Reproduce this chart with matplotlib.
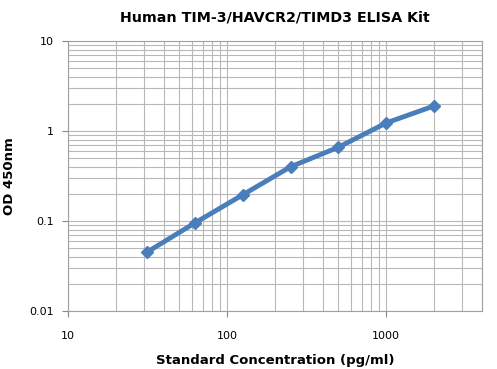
import matplotlib
matplotlib.use('Agg')
import matplotlib.pyplot as plt
from matplotlib.ticker import LogLocator, FixedLocator, FixedFormatter

# standard curve data
conc = [31.25, 62.5, 125, 250, 500, 1000, 2000]
od = [0.045, 0.095, 0.195, 0.40, 0.66, 1.23, 1.90]

x_ticks = [10, 100, 1000]
x_labels = ['10', '100', '1000']
y_ticks = [0.01, 0.1, 1, 10]
y_labels = ['0.01', '0.1', '1', '10']

fig = plt.figure(figsize=(4.97, 3.69), dpi=100)
ax = fig.add_axes([0.137, 0.157, 0.833, 0.732])

ax.set_xscale('log')
ax.set_yscale('log')
ax.set_xlim(10, 4000)
ax.set_ylim(0.01, 10)

ax.plot(conc, od, color='#4a7ebb', lw=3.5, marker='D', markersize=6.5,
        markerfacecolor='#4a7ebb', markeredgecolor='#4a7ebb', zorder=3)

ax.xaxis.set_major_locator(FixedLocator(x_ticks))
ax.xaxis.set_major_formatter(FixedFormatter(x_labels))
ax.yaxis.set_major_locator(FixedLocator(y_ticks))
ax.yaxis.set_major_formatter(FixedFormatter(y_labels))
ax.xaxis.set_minor_locator(LogLocator(base=10, subs=range(2, 10), numticks=20))
ax.yaxis.set_minor_locator(LogLocator(base=10, subs=range(2, 10), numticks=20))
ax.xaxis.set_minor_formatter(plt.NullFormatter())
ax.yaxis.set_minor_formatter(plt.NullFormatter())

ax.grid(True, which='both', color='#b8b8b8', lw=0.8)
ax.set_axisbelow(True)
for s in ax.spines.values():
    s.set_color('#a0a0a0')
    s.set_linewidth(0.8)
ax.tick_params(which='both', length=0, labelsize=8, pad=6)
ax.tick_params(axis='y', which='major', length=4, direction='out', color='#888888')
ax.tick_params(axis='x', which='major', length=4, direction='out', color='#888888', pad=10)

ax.set_title('Human TIM-3/HAVCR2/TIMD3 ELISA Kit', fontsize=10.3, fontweight='bold', pad=14)
ax.set_xlabel('Standard Concentration (pg/ml)', fontsize=9.5, fontweight='bold', labelpad=10)
ax.set_ylabel('OD 450nm', fontsize=9.5, fontweight='bold', labelpad=10)

fig.savefig('out.png', dpi=100)
